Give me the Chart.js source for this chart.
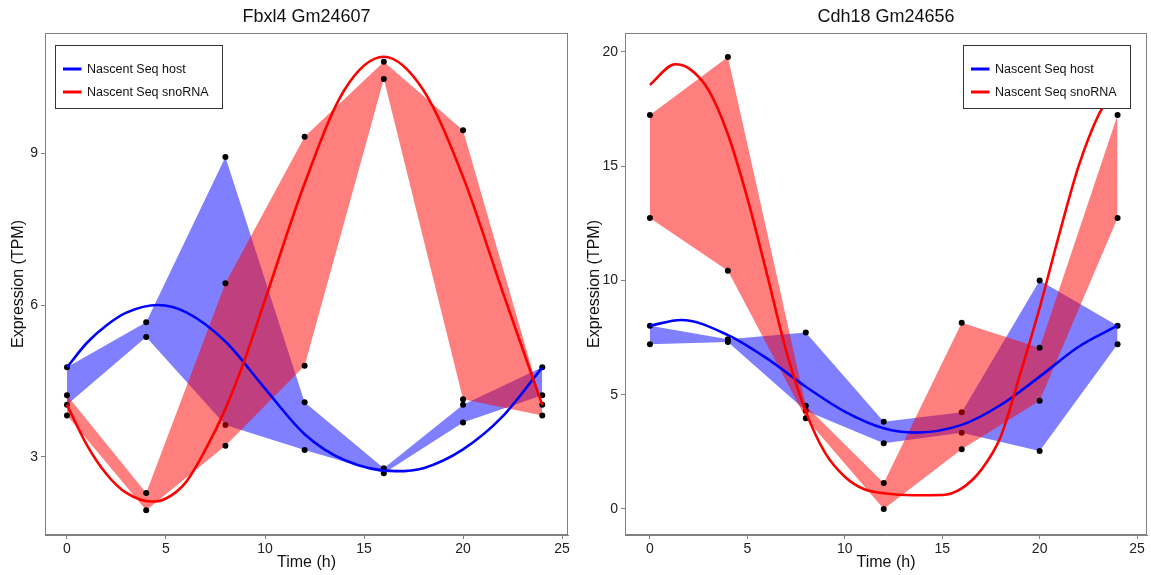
<!DOCTYPE html>
<html>
<head>
<meta charset="utf-8"/>
<title>Nascent Seq host vs snoRNA</title>
<script src="https://cdn.jsdelivr.net/npm/chart.js@4.4.1/dist/chart.umd.min.js"></script>
<style>
    body { margin: 0; background: #fff; }
    #left { position: absolute; left: 0; top: 0; }
    #right { position: absolute; left: 576px; top: 0; }
</style>
</head>
<body>
<canvas id="left" width="575" height="575"></canvas>
<canvas id="right" width="575" height="575"></canvas>

<script>
// sampling times (h)
var times = [0, 4, 8, 12, 16, 20, 24];
var xTicks = [0, 5, 10, 15, 20, 25];

// Fbxl4 / Gm24607 replicates
var fbxl4HostA = [4.77, 5.66, 8.92, 4.08, 2.78, 4.03, 4.77];
var fbxl4HostB = [4.03, 5.37, 3.63, 3.14, 2.68, 3.68, 4.22];
var gm24607SnoA = [4.22, 2.29, 6.43, 9.32, 10.80, 9.45, 4.03];
var gm24607SnoB = [3.82, 1.95, 3.22, 4.80, 10.46, 4.14, 3.82];
// fitted curves
var fbxl4FitT = [0, 1, 2, 3, 4.6, 6, 8, 10, 12, 14, 16.6, 18, 20, 22, 24];
var fbxl4FitY = [4.77, 5.25, 5.6, 5.85, 6.0, 5.86, 5.28, 4.35, 3.45, 2.94, 2.72, 2.78, 3.15, 3.8, 4.77];
var gm24607FitT = [0, 1, 2, 3, 4.3, 5, 6, 7, 8, 9, 10, 12, 14, 16, 18, 20, 22, 24];
var gm24607FitY = [4.03, 3.24, 2.66, 2.29, 2.12, 2.18, 2.5, 3.15, 3.95, 4.95, 6.1, 8.4, 10.24, 10.9, 10.24, 8.53, 6.26, 4.03];
var leftYTicks = [3, 6, 9];

// Cdh18 / Gm24656 replicates
var cdh18HostA = [8.02, 7.43, 7.72, 3.82, 4.23, 10.0, 8.02];
var cdh18HostB = [7.21, 7.31, 4.30, 2.87, 3.33, 2.54, 7.21];
var gm24656SnoA = [17.24, 19.78, 4.52, 1.14, 8.15, 7.05, 17.24];
var gm24656SnoB = [12.73, 10.42, 3.97, 0.0, 2.61, 4.74, 12.73];
var cdh18FitT = [0, 1.6, 4, 6, 8, 10, 12, 13.6, 16, 18, 20, 22, 24];
var cdh18FitY = [8.02, 8.27, 7.61, 6.59, 5.35, 4.26, 3.53, 3.34, 3.68, 4.55, 5.79, 7.10, 8.02];
var gm24656FitT = [0, 1.3, 2, 3, 4, 5, 6, 7, 8, 9, 10, 11, 12, 13.5, 15, 16, 17, 18, 19, 20, 21, 22, 23, 24];
var gm24656FitY = [18.56, 19.46, 19.28, 18.34, 16.4, 13.6, 10.3, 6.9, 4.26, 2.44, 1.41, 0.86, 0.69, 0.6, 0.61, 0.9, 1.71, 3.16, 5.9, 8.8, 12.0, 15.0, 17.2, 18.56];
var rightYTicks = [0, 5, 10, 15, 20];

var legendLabels = ['Nascent Seq host', 'Nascent Seq snoRNA'];

var BLUE = 'rgb(0,0,255)', RED = 'rgb(255,0,0)';
var FONT = '"Liberation Sans", Arial, sans-serif';

function pts(xs, ys) {
    var out = [];
    for (var i = 0; i < xs.length; i++) out.push({x: xs[i], y: ys[i]});
    return out;
}
function band(a, b, fn) {
    var out = [];
    for (var i = 0; i < times.length; i++) out.push({x: times[i], y: fn(a[i], b[i])});
    return out;
}
function allPts(a, b) {
    return pts(times, a).concat(pts(times, b));
}

// box around plot, title, legend box
var framePlugin = {
    id: 'frame',
    afterDraw: function(chart) {
        var ctx = chart.ctx, a = chart.chartArea, o = chart.options.plugins.frame;
        ctx.save();
        ctx.strokeStyle = '#808080';
        ctx.lineWidth = 1;
        ctx.strokeRect(a.left + 0.5, a.top + 0.5, a.right - a.left - 1, a.bottom - a.top - 1);

        ctx.fillStyle = '#111';
        ctx.font = '18px ' + FONT;
        ctx.textAlign = 'center';
        ctx.textBaseline = 'middle';
        ctx.fillText(o.title, (a.left + a.right) / 2, 17);

        var w = 167, h = 63;
        var bx = o.legendLeft ? a.left + 10.5 : a.right - 16.5 - w;
        var by = a.top + 12.5;
        ctx.fillStyle = '#fff';
        ctx.fillRect(bx, by, w, h);
        ctx.strokeStyle = '#333';
        ctx.strokeRect(bx, by, w, h);
        var cols = [BLUE, RED];
        ctx.font = '12.5px ' + FONT;
        ctx.textAlign = 'left';
        for (var i = 0; i < 2; i++) {
            var y = by + 23.5 + i * 23;
            ctx.strokeStyle = cols[i];
            ctx.lineWidth = 3;
            ctx.beginPath();
            ctx.moveTo(bx + 7.5, y);
            ctx.lineTo(bx + 26, y);
            ctx.stroke();
            ctx.fillStyle = '#111';
            ctx.fillText(legendLabels[i], bx + 31.5, y + 0.5);
        }
        ctx.restore();
    }
};

function makeChart(id, cfg) {
    var datasets = [
        {data: band(cfg.hostA, cfg.hostB, Math.max), fill: '+1', backgroundColor: 'rgba(0,0,255,0.5)',
         borderColor: 'rgba(0,0,0,0)', borderWidth: 0, pointRadius: 0, tension: 0, order: 8},
        {data: band(cfg.hostA, cfg.hostB, Math.min), fill: false,
         borderColor: 'rgba(0,0,0,0)', borderWidth: 0, pointRadius: 0, tension: 0, order: 7},
        {data: allPts(cfg.hostA, cfg.hostB), showLine: false, pointRadius: 3, pointBorderWidth: 0,
         pointBackgroundColor: '#000', order: 6},
        {data: band(cfg.snoA, cfg.snoB, Math.max), fill: '+1', backgroundColor: 'rgba(255,0,0,0.5)',
         borderColor: 'rgba(0,0,0,0)', borderWidth: 0, pointRadius: 0, tension: 0, order: 5},
        {data: band(cfg.snoA, cfg.snoB, Math.min), fill: false,
         borderColor: 'rgba(0,0,0,0)', borderWidth: 0, pointRadius: 0, tension: 0, order: 4},
        {data: allPts(cfg.snoA, cfg.snoB), showLine: false, pointRadius: 3, pointBorderWidth: 0,
         pointBackgroundColor: '#000', order: 3},
        {data: pts(cfg.hostFitT, cfg.hostFitY), borderColor: BLUE, borderWidth: 2.6, pointRadius: 0,
         cubicInterpolationMode: 'monotone', fill: false, order: 2},
        {data: pts(cfg.snoFitT, cfg.snoFitY), borderColor: RED, borderWidth: 2.6, pointRadius: 0,
         cubicInterpolationMode: 'monotone', fill: false, order: 1}
    ];
    return new Chart(document.getElementById(id), {
        type: 'line',
        data: {datasets: datasets},
        plugins: [framePlugin],
        options: {
            responsive: false,
            animation: false,
            devicePixelRatio: 1,
            layout: {padding: {top: 33, right: cfg.padRight, left: 0, bottom: 0}},
            plugins: {
                legend: {display: false},
                tooltip: {enabled: false},
                frame: {title: cfg.title, legendLeft: cfg.legendLeft}
            },
            scales: {
                x: {
                    type: 'linear', min: cfg.xMin, max: cfg.xMax,
                    afterBuildTicks: function(s) { s.ticks = xTicks.map(function(v) { return {value: v}; }); },
                    afterFit: function(s) { s.height = 40; },
                    grid: {drawOnChartArea: false, drawTicks: true, tickLength: 4, color: '#808080'},
                    border: {display: true, color: '#808080'},
                    ticks: {color: '#222', font: {family: FONT, size: 14}, padding: 2, maxRotation: 0},
                    title: {display: true, text: 'Time (h)', color: '#111', font: {family: FONT, size: 16}, padding: {top: 0, bottom: 3}}
                },
                y: {
                    type: 'linear', min: cfg.yMin, max: cfg.yMax,
                    afterBuildTicks: function(s) { s.ticks = cfg.yTicks.map(function(v) { return {value: v}; }); },
                    afterFit: function(s) { s.width = cfg.yWidth; },
                    grid: {drawOnChartArea: false, drawTicks: true, tickLength: 4, color: '#808080'},
                    border: {display: true, color: '#808080'},
                    ticks: {color: '#222', font: {family: FONT, size: 14}, padding: 3},
                    title: {display: true, text: 'Expression (TPM)', color: '#111', font: {family: FONT, size: 16}, padding: {top: 9, bottom: 0}}
                }
            }
        }
    });
}

makeChart('left', {
    title: 'Fbxl4 Gm24607', legendLeft: true, padRight: 7, yWidth: 45,
    xMin: -1.11, xMax: 25.3, yMin: 1.46, yMax: 11.37, yTicks: leftYTicks,
    hostA: fbxl4HostA, hostB: fbxl4HostB, snoA: gm24607SnoA, snoB: gm24607SnoB,
    hostFitT: fbxl4FitT, hostFitY: fbxl4FitY, snoFitT: gm24607FitT, snoFitY: gm24607FitY
});

makeChart('right', {
    title: 'Cdh18 Gm24656', legendLeft: false, padRight: 4, yWidth: 49,
    xMin: -1.28, xMax: 25.51, yMin: -1.14, yMax: 20.83, yTicks: rightYTicks,
    hostA: cdh18HostA, hostB: cdh18HostB, snoA: gm24656SnoA, snoB: gm24656SnoB,
    hostFitT: cdh18FitT, hostFitY: cdh18FitY, snoFitT: gm24656FitT, snoFitY: gm24656FitY
});
</script>
</body>
</html>
